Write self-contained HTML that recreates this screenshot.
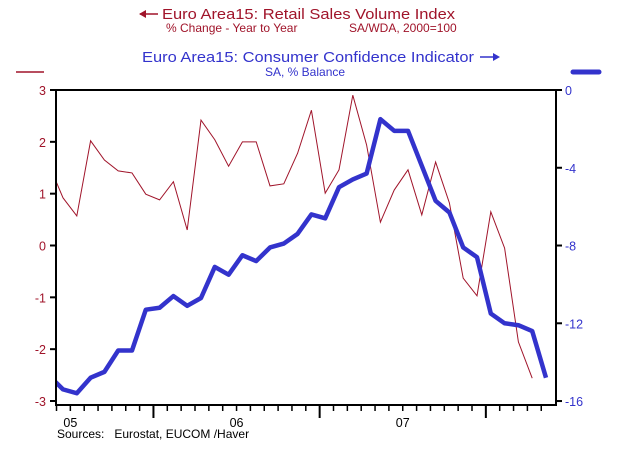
<!DOCTYPE html>
<html><head><meta charset="utf-8"><style>
body{margin:0;background:#fff;}
svg{display:block;font-family:"Liberation Sans",Arial,sans-serif;}
</style></head><body>
<svg id="chart" width="633" height="453" viewBox="0 0 633 453" xmlns="http://www.w3.org/2000/svg">
<line x1="140" y1="14" x2="158" y2="14" stroke="#a0142a" stroke-width="1.5"/>
<path d="M139,14 L146,10 L146,18 Z" fill="#a0142a"/>
<text x="162" y="19" font-size="15" fill="#a0142a" textLength="293" lengthAdjust="spacingAndGlyphs">Euro Area15: Retail Sales Volume Index</text>
<text x="166" y="32" font-size="12" fill="#a0142a">% Change - Year to Year<tspan x="349">SA/WDA, 2000=100</tspan></text>
<text x="142" y="62" font-size="15" fill="#3333cc" textLength="332" lengthAdjust="spacingAndGlyphs">Euro Area15: Consumer Confidence Indicator</text>
<line x1="480" y1="57" x2="498" y2="57" stroke="#3333cc" stroke-width="1.5"/>
<path d="M500,57 L493,53 L493,61 Z" fill="#3333cc"/>
<text x="265" y="76" font-size="12" fill="#3333cc">SA, % Balance</text>
<line x1="16" y1="72" x2="44" y2="72" stroke="#a0142a" stroke-width="1.5"/>
<line x1="573" y1="72" x2="599" y2="72" stroke="#3333cc" stroke-width="5" stroke-linecap="round"/>
<defs><clipPath id="pc"><rect x="56" y="90" width="500" height="315"/></clipPath></defs>
<g id="axes"></g>
<g id="series" clip-path="url(#pc)"></g>
<rect x="56" y="90" width="500" height="315" fill="none" stroke="#000" stroke-width="2"/>
<text x="57" y="438" font-size="12" fill="#000">Sources:&#160;&#160; Eurostat, EUCOM /Haver</text>
</svg>
<script>
const retailValues=[1.55,0.92,0.57,2.02,1.65,1.44,1.40,0.99,0.88,1.23,0.30,2.42,2.04,1.53,2.00,2.00,1.15,1.19,1.78,2.61,1.01,1.46,2.90,1.94,0.45,1.07,1.46,0.59,1.61,0.82,-0.63,-0.97,0.65,-0.05,-1.86,-2.56];
const confidenceValues=[-14.7,-15.4,-15.6,-14.8,-14.5,-13.4,-13.4,-11.3,-11.2,-10.6,-11.1,-10.7,-9.1,-9.5,-8.5,-8.8,-8.1,-7.9,-7.4,-6.4,-6.6,-5.0,-4.6,-4.3,-1.5,-2.1,-2.1,-3.9,-5.7,-6.3,-8.1,-8.6,-11.5,-12.0,-12.1,-12.4,-14.8];
const leftTicks=[3,2,1,0,-1,-2,-3];
const rightTicks=[0,-4,-8,-12,-16];
const yearLabels=["05","06","07"];
const NS="http://www.w3.org/2000/svg";
const X=k=>49.2+k*13.8;
const YL=v=>245.5-v*51.83;
const YR=v=>90-v*19.44;
function mk(t,a,p){const e=document.createElementNS(NS,t);for(const k in a)e.setAttribute(k,a[k]);p.appendChild(e);return e;}
const ax=document.getElementById('axes'),se=document.getElementById('series');
leftTicks.forEach(v=>{
  const l=mk('line',{x1:50,x2:56,y1:YL(v),y2:YL(v),stroke:'#000','stroke-width':2},ax);
  
  
  const t=mk('text',{x:46,y:YL(v)+5,'text-anchor':'end','font-size':12.5,fill:'#a0142a'},ax);
  t.textContent=v;
  
  
});
rightTicks.forEach(v=>{
  const l=mk('line',{x1:556,x2:562,y1:YR(v),y2:YR(v),stroke:'#000','stroke-width':2},ax);
  
  
  const t=mk('text',{x:565,y:YR(v)+5,'font-size':12.5,fill:'#3333cc'},ax);
  t.textContent=v;
  
  
});
for(let j=0;j<36;j++){
  const x=56.5+j*13.85,maj=(j%12===7);
  const l=mk('line',{x1:x,x2:x,y1:405,y2:maj?418:411,stroke:'#000','stroke-width':maj?2:1.5},ax);
  
  
}
yearLabels.forEach((s,i)=>{
  const t=mk('text',{x:56.5+(1+12*i)*13.85,y:427,'text-anchor':'middle','font-size':12.5,fill:'#000'},ax);
  t.textContent=s;
  
  
});
const r=mk('polyline',{points:retailValues.map((v,i)=>X(i)+','+YL(v)).join(' '),fill:'none',stroke:'#a0142a','stroke-width':1},se);


const b=mk('polyline',{points:confidenceValues.map((v,i)=>X(i)+','+YR(v)).join(' '),fill:'none',stroke:'#3333cc','stroke-width':4.5,'stroke-linejoin':'round'},se);


</script>
</body></html>
